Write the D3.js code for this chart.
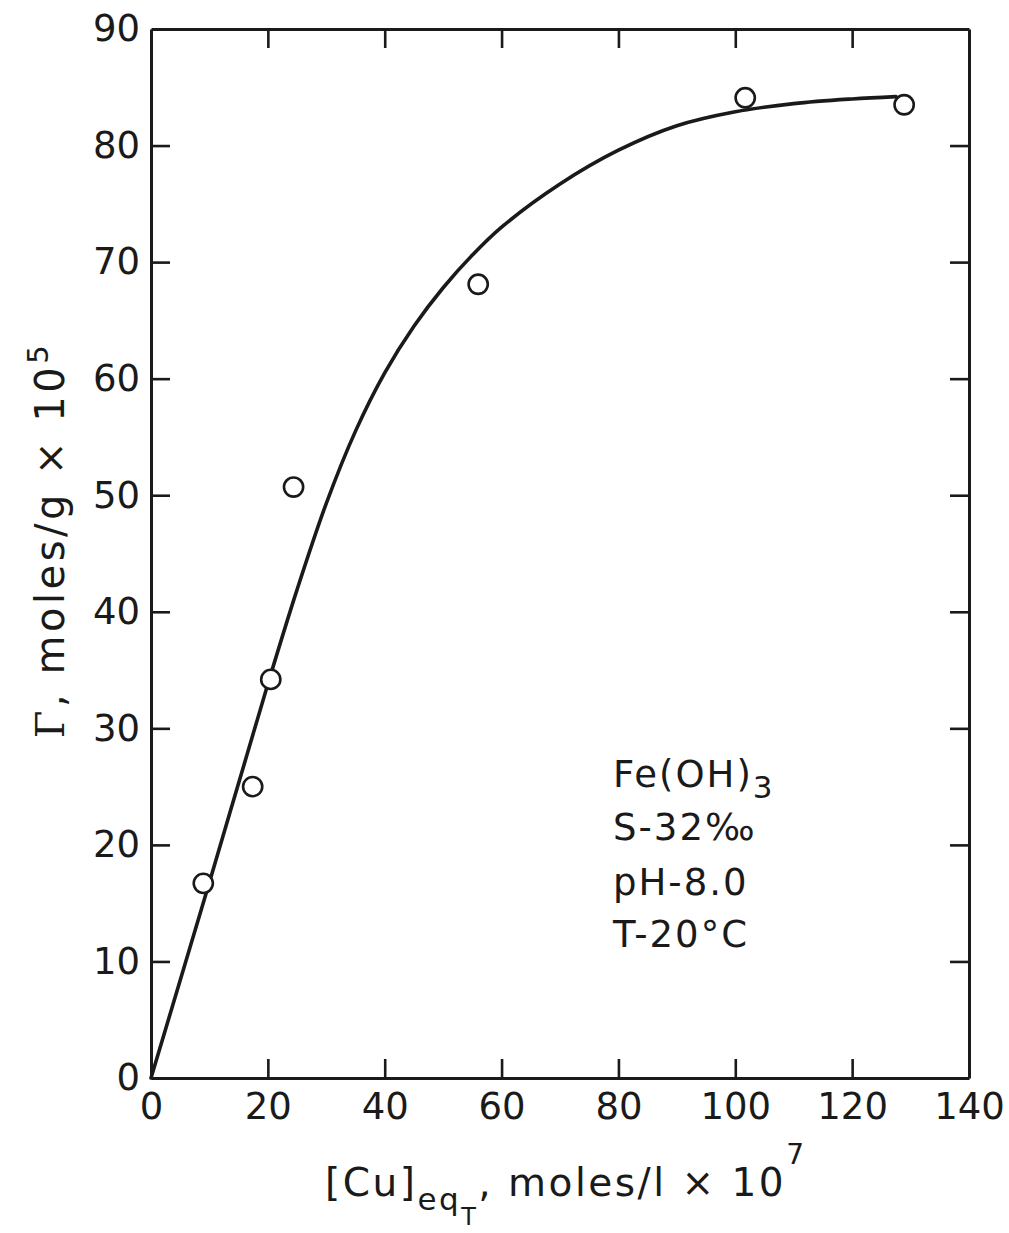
<!DOCTYPE html>
<html>
<head>
<meta charset="utf-8">
<script src="https://cdn.jsdelivr.net/npm/d3@7"></script>
<style>
  html, body { margin: 0; padding: 0; background: #fff; }
  svg { display: block; }
  text { font-family: "DejaVu Sans", "Liberation Sans", sans-serif; fill: #1a1a1a; }
</style>
</head>
<body>
<svg id="chart" width="1009" height="1233"></svg>
<script>
// Measured adsorption of Cu on Fe(OH)3
const cuEq = [8.95, 17.4, 20.5, 24.4, 56.0, 101.7, 128.9];
const gamma = [16.7, 25.0, 34.2, 50.7, 68.1, 84.1, 83.5];

// Hand-fitted isotherm curve
const fitX = [0, 10, 20, 25, 30, 35, 40, 45, 50, 55, 60, 70, 80, 90, 100, 110, 120, 127.5];
const fitY = [0, 16.8, 33.8, 41.9, 49.3, 55.5, 60.5, 64.5, 67.8, 70.6, 73.0, 76.7, 79.6, 81.7, 82.9, 83.6, 84.0, 84.2];

// Axis ticks
const xTicks = [0, 20, 40, 60, 80, 100, 120, 140];
const yTicks = [0, 10, 20, 30, 40, 50, 60, 70, 80, 90];

// Conditions note
const conditions = ["Fe(OH)", "S-32‰", "pH-8.0", "T-20°C"];

const ink = "#1a1a1a";
const plot = { left: 151, right: 969, top: 29, bottom: 1078 };

const svg = d3.select("#chart");
svg.append("rect").attr("width", 1009).attr("height", 1233).attr("fill", "#fff");

const x = d3.scaleLinear().domain([0, 140]).range([plot.left, plot.right]);
const y = d3.scaleLinear().domain([0, 90]).range([plot.bottom, plot.top]);

const tickLen = 19;

function styleAxis(g, width) {
  g.selectAll("path.domain").attr("stroke", ink).attr("stroke-width", width);
  g.selectAll(".tick line").attr("stroke", ink).attr("stroke-width", 2.6);
  g.selectAll(".tick text").attr("fill", ink).style("font-size", "37px")
    .style("font-family", "'DejaVu Sans', sans-serif");
}

// bottom axis with labels
svg.append("g").attr("transform", `translate(0,${plot.bottom})`)
  .call(d3.axisBottom(x).tickValues(xTicks).tickSizeInner(-tickLen).tickSizeOuter(0).tickPadding(15).tickFormat(d3.format("d")))
  .call(g => styleAxis(g, 3.2));

// left axis with labels
svg.append("g").attr("transform", `translate(${plot.left},0)`)
  .call(d3.axisLeft(y).tickValues(yTicks).tickSizeInner(-tickLen).tickSizeOuter(0).tickPadding(11).tickFormat(d3.format("d")))
  .call(g => styleAxis(g, 3));

// top and right axes: ticks only
svg.append("g").attr("transform", `translate(0,${plot.top})`)
  .call(d3.axisTop(x).tickValues(xTicks).tickSizeInner(-tickLen).tickSizeOuter(0).tickFormat(""))
  .call(g => styleAxis(g, 3));
svg.append("g").attr("transform", `translate(${plot.right},0)`)
  .call(d3.axisRight(y).tickValues(yTicks).tickSizeInner(-tickLen).tickSizeOuter(0).tickFormat(""))
  .call(g => styleAxis(g, 3));

// drop edge tick marks that sit on the frame corners
svg.selectAll(".tick").filter(d => d === 0 || d === 140 || d === 90).select("line").remove();

// fitted curve
const fit = fitX.map((v, i) => [v, fitY[i]]);
svg.append("path")
  .datum(fit)
  .attr("fill", "none")
  .attr("stroke", ink)
  .attr("stroke-width", 3.6)
  .attr("stroke-linecap", "round")
  .attr("d", d3.line().x(d => x(d[0])).y(d => y(d[1])).curve(d3.curveCatmullRom.alpha(0.5)));

// data points
svg.append("g").selectAll("circle")
  .data(cuEq.map((v, i) => [v, gamma[i]]))
  .join("circle")
  .attr("cx", d => x(d[0]))
  .attr("cy", d => y(d[1]))
  .attr("r", 9.6)
  .attr("fill", "#fff")
  .attr("stroke", ink)
  .attr("stroke-width", 2.6);

// conditions note
const note = svg.append("g").style("font-size", "37px").style("letter-spacing", "2px");
const noteBase = [787, 840, 895, 947];
conditions.forEach((t, i) => {
  const tx = note.append("text").attr("x", 613).attr("y", noteBase[i]).text(t);
  if (i === 0) tx.append("tspan").attr("dy", 11).style("font-size", "31px").text("3");
});

// x-axis title
const xt = svg.append("text").attr("x", 325).attr("y", 1196)
  .style("font-size", "39px").style("letter-spacing", "2.5px");
xt.append("tspan").text("[Cu]");
xt.append("tspan").attr("y", 1210).style("font-size", "31px").text("eq");
xt.append("tspan").attr("y", 1225).style("font-size", "24px").text("T");
xt.append("tspan").attr("y", 1196).text(", moles/l × 10");
xt.append("tspan").attr("y", 1164).style("font-size", "28px").text("7");

// y-axis title
const yt = svg.append("text")
  .attr("transform", "translate(64,540) rotate(-90)")
  .attr("text-anchor", "middle")
  .style("font-size", "40px")
  .style("letter-spacing", "3.5px");
yt.append("tspan").style("font-family", "'DejaVu Serif', 'Liberation Serif', serif").text("Γ");
yt.append("tspan").text(", moles/g × 10");
yt.append("tspan").attr("dy", -16).style("font-size", "29px").text("5");
</script>
</body>
</html>
